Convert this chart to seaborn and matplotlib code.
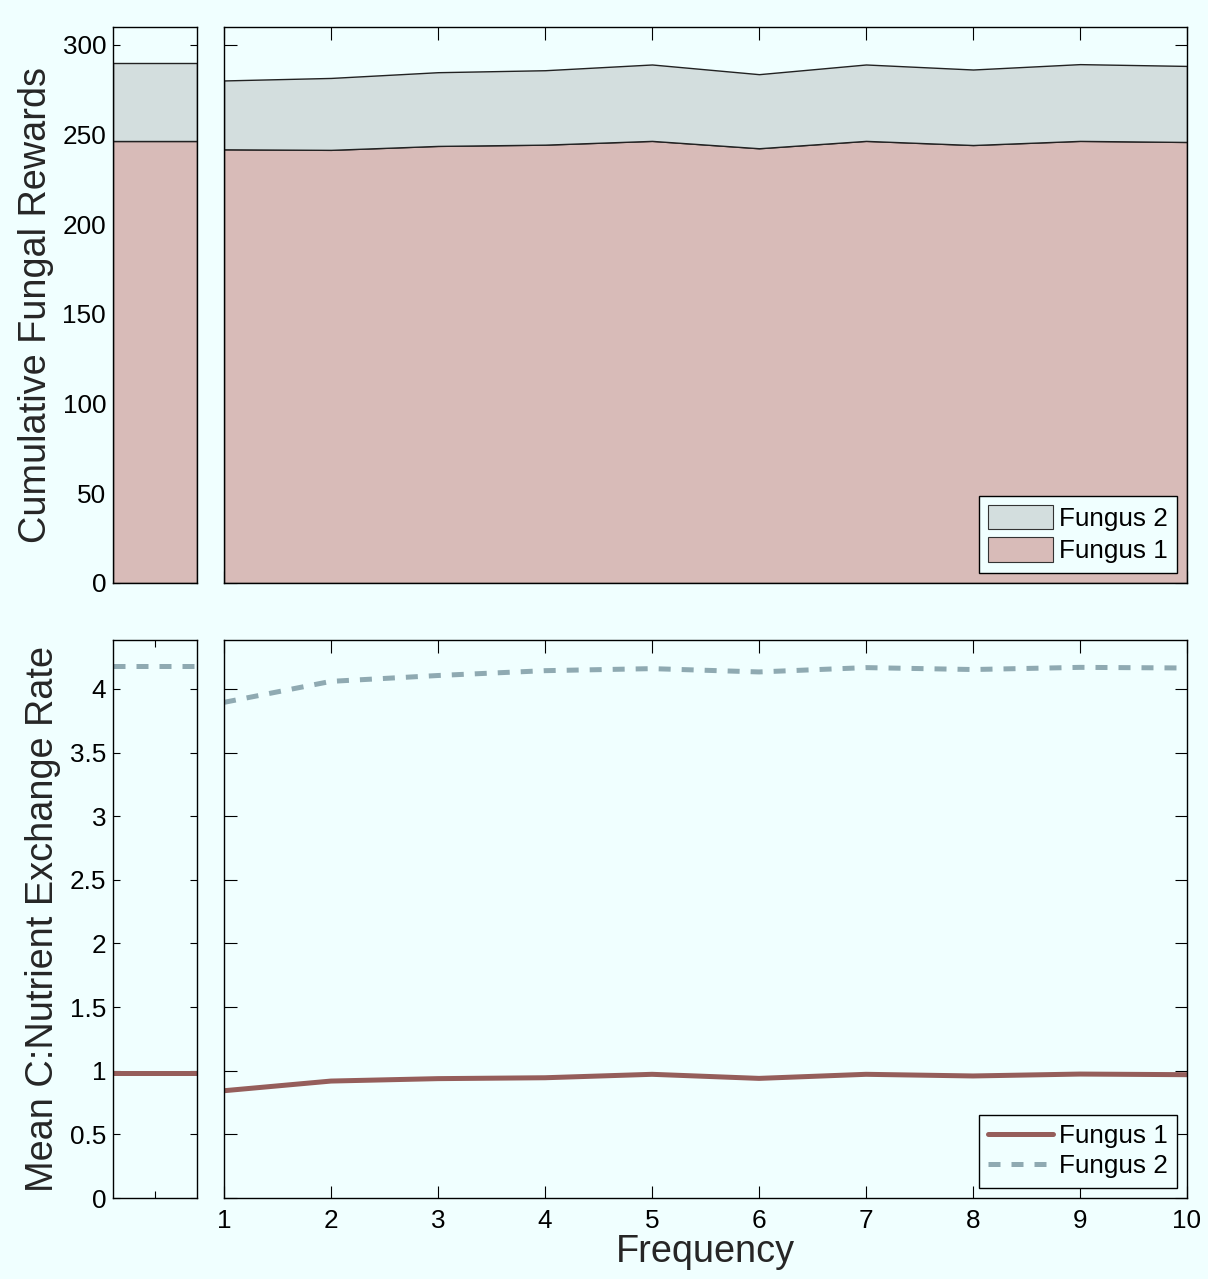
import numpy as np
import pandas as pd
import matplotlib
matplotlib.use("Agg")
import matplotlib.pyplot as plt
from matplotlib.patches import Patch
from matplotlib.lines import Line2D
from matplotlib.ticker import FuncFormatter
import seaborn as sns

# ---------------- data ----------------
frequency = [1, 2, 3, 4, 5, 6, 7, 8, 9, 10]
reward_fungus1 = [241.8, 241.5, 243.7, 244.4, 246.5, 242.4, 246.5, 244.2, 246.5, 245.9]
reward_fungus2 = [38.4, 40.1, 41.1, 41.5, 42.6, 41.3, 42.6, 42.1, 42.8, 42.4]
baseline_reward_fungus1 = 246.5
baseline_reward_fungus2 = 43.2

rate_fungus1 = [0.843, 0.919, 0.938, 0.945, 0.972, 0.940, 0.972, 0.959, 0.974, 0.969]
rate_fungus2 = [3.895, 4.060, 4.106, 4.144, 4.160, 4.134, 4.168, 4.153, 4.170, 4.165]
baseline_rate_fungus1 = 0.98
baseline_rate_fungus2 = 4.18

series_names = ["Fungus 1", "Fungus 2"]
reward_ticks = [0, 50, 100, 150, 200, 250, 300]
rate_ticks = [0, 0.5, 1, 1.5, 2, 2.5, 3, 3.5, 4]

# ---------------- style ----------------
BG = "#F0FFFF"
FILL1 = "#D8BBB8"
FILL2 = "#D3DEDE"
LINE1 = "#955E5B"
LINE2 = "#8FAAB2"

sns.set_style("ticks", {"axes.facecolor": BG, "figure.facecolor": BG})
plt.rcParams["font.family"] = ["Liberation Sans", "DejaVu Sans"]
plt.rcParams["axes.linewidth"] = 1.0
plt.rcParams["axes.edgecolor"] = "black"
plt.rcParams["text.color"] = "black"

TICK_FS = 18.8
LABEL_FS = 27.3

W, H = 1208, 1279
fig = plt.figure(figsize=(W / 100, H / 100), dpi=100, facecolor=BG)

def frac(x0, y0, x1, y1):
    return [x0 / W, 1 - y1 / H, (x1 - x0) / W, (y1 - y0) / H]

ax_tl = fig.add_axes(frac(113, 27, 197, 583))
ax_tr = fig.add_axes(frac(224, 27, 1187, 583))
ax_bl = fig.add_axes(frac(113, 640, 197, 1198))
ax_br = fig.add_axes(frac(224, 640, 1187, 1198))

for ax in (ax_tl, ax_tr, ax_bl, ax_br):
    ax.set_facecolor(BG)
    for s in ax.spines.values():
        s.set_visible(True)
        s.set_color("black")
        s.set_linewidth(1.0)
        s.set_zorder(5)
    ax.tick_params(direction="in", top=True, right=True, labelsize=TICK_FS,
                   colors="black", width=0.8)

# ---------------- top: stacked areas ----------------
df_top = pd.DataFrame({"Frequency": frequency,
                       "Fungus 1": reward_fungus1,
                       "Fungus 2": reward_fungus2})
ax_tr.stackplot(df_top["Frequency"], df_top["Fungus 1"], df_top["Fungus 2"],
                colors=[FILL1, FILL2], edgecolor="#222222", linewidth=1.0)
ax_tr.set_xlim(1, 10)
ax_tr.set_ylim(0, 310)
ax_tr.set_xticks(frequency)
ax_tr.set_xticklabels([])
ax_tr.set_yticks(reward_ticks)
ax_tr.set_yticklabels([])
ax_tr.tick_params(axis="both", length=9)

ax_tl.stackplot([0, 1], [baseline_reward_fungus1] * 2, [baseline_reward_fungus2] * 2,
                colors=[FILL1, FILL2], edgecolor="#222222", linewidth=1.0)
ax_tl.set_xlim(0, 1)
ax_tl.set_ylim(0, 310)
ax_tl.set_xticks([])
ax_tl.set_yticks(reward_ticks)
ax_tl.tick_params(axis="y", length=5, pad=5)
ax_tl.set_ylabel("Cumulative Fungal Rewards", fontsize=LABEL_FS, labelpad=6)

leg_kw = dict(loc="lower right", fontsize=TICK_FS, frameon=True, fancybox=False,
              framealpha=1, facecolor=BG, edgecolor="black", borderaxespad=0.4,
              handlelength=2.5, handletextpad=0.2, labelspacing=0.25,
              borderpad=0.35)

leg1 = ax_tr.legend(
    handles=[Patch(facecolor=FILL2, edgecolor="#333333", linewidth=0.8, label="Fungus 2"),
             Patch(facecolor=FILL1, edgecolor="#333333", linewidth=0.8, label="Fungus 1")],
    handleheight=1.05, **leg_kw)
leg1.get_frame().set_linewidth(1.0)

# ---------------- bottom: exchange rate lines ----------------
df_rate = pd.DataFrame({
    "Frequency": frequency * 2,
    "Rate": rate_fungus1 + rate_fungus2,
    "Fungus": [series_names[0]] * len(frequency) + [series_names[1]] * len(frequency),
})
sns.lineplot(data=df_rate, x="Frequency", y="Rate", hue="Fungus", style="Fungus",
             palette={"Fungus 1": LINE1, "Fungus 2": LINE2},
             dashes={"Fungus 1": "", "Fungus 2": (2.4, 2.2)},
             linewidth=3.6, ax=ax_br, legend=False)
for ln in ax_br.get_lines():
    ln.set_dash_capstyle("butt")
    ln.set_solid_capstyle("butt")
ax_br.set_xlim(1, 10)
ax_br.set_ylim(0, 4.385)
ax_br.set_xticks(frequency)
ax_br.set_yticks(rate_ticks)
ax_br.set_yticklabels([])
ax_br.tick_params(axis="both", length=9)
ax_br.tick_params(axis="x", pad=8)
ax_br.set_xlabel("Frequency", fontsize=LABEL_FS, labelpad=1)
ax_br.set_ylabel("")

df_base = pd.DataFrame({
    "x": [0, 1, 0, 1],
    "Rate": [baseline_rate_fungus1] * 2 + [baseline_rate_fungus2] * 2,
    "Fungus": [series_names[0]] * 2 + [series_names[1]] * 2,
})
sns.lineplot(data=df_base, x="x", y="Rate", hue="Fungus", style="Fungus",
             palette={"Fungus 1": LINE1, "Fungus 2": LINE2},
             dashes={"Fungus 1": "", "Fungus 2": (2.4, 2.2)},
             linewidth=3.6, ax=ax_bl, legend=False)
for ln in ax_bl.get_lines():
    ln.set_dash_capstyle("butt")
ax_bl.set_xlim(0, 1)
ax_bl.set_ylim(0, 4.385)
ax_bl.set_xticks([0.5])
ax_bl.set_xticklabels([])
ax_bl.set_xlabel("")
ax_bl.set_yticks(rate_ticks)
ax_bl.yaxis.set_major_formatter(FuncFormatter(lambda v, p: f"{v:g}"))
ax_bl.tick_params(axis="both", length=5)
ax_bl.tick_params(axis="y", pad=5)
ax_bl.set_ylabel("Mean C:Nutrient Exchange Rate", fontsize=LABEL_FS, labelpad=6)

leg2 = ax_br.legend(
    handles=[Line2D([], [], color=LINE1, linewidth=3.6, label="Fungus 1"),
             Line2D([], [], color=LINE2, linewidth=3.6, linestyle=(0, (2.4, 2.2)),
                    dash_capstyle="butt", label="Fungus 2")],
    **leg_kw)
leg2.get_frame().set_linewidth(1.0)

fig.savefig("out.png", dpi=100, facecolor=BG)
